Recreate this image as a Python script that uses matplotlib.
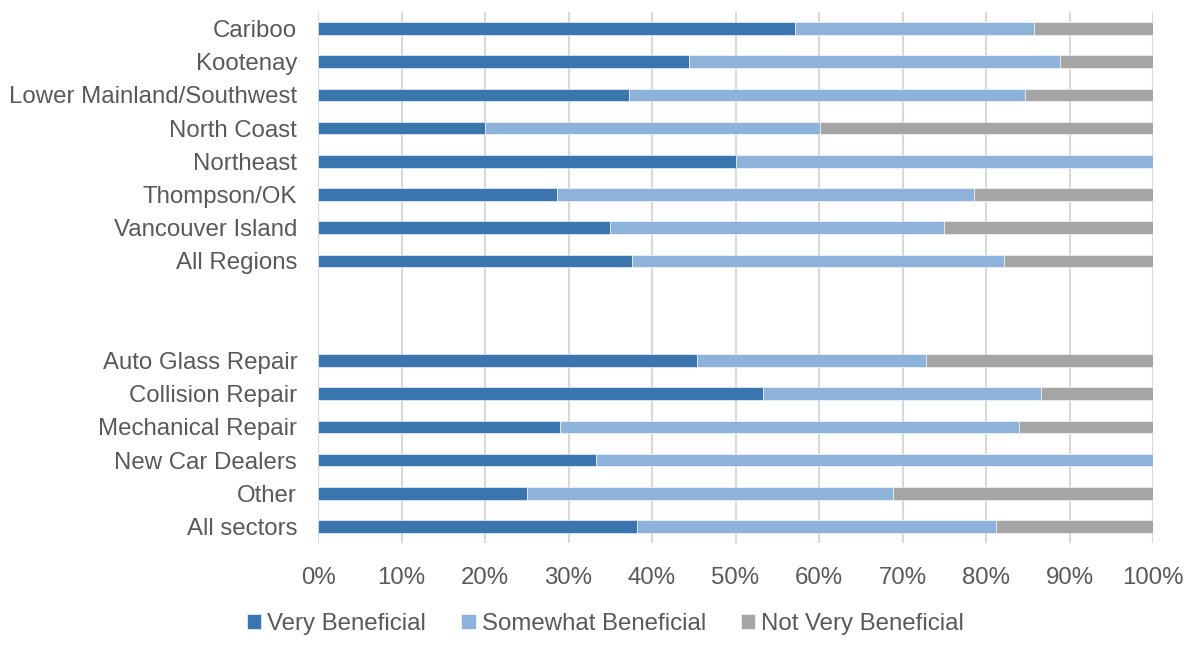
import numpy as np
import matplotlib.pyplot as plt

plt.rcParams['font.family'] = ['Liberation Sans', 'DejaVu Sans']

# Regions and sectors, with two empty slots between the groups
regions = ['Cariboo', 'Kootenay', 'Lower Mainland/Southwest', 'North Coast',
           'Northeast', 'Thompson/OK', 'Vancouver Island', 'All Regions']
sectors = ['Auto Glass Repair', 'Collision Repair', 'Mechanical Repair',
           'New Car Dealers', 'Other', 'All sectors']

# shares in percent
very_reg = [57.1, 44.4, 37.2, 20.0, 50.0, 28.6, 35.0, 37.6]
some_reg = [28.6, 44.5, 47.5, 40.1, 50.0, 50.0, 40.0, 44.5]
not_reg = [14.3, 11.1, 15.3, 39.9, 0.0, 21.4, 25.0, 17.9]

very_sec = [45.4, 53.3, 29.0, 33.3, 25.0, 38.2]
some_sec = [27.4, 33.3, 54.9, 66.7, 43.8, 43.0]
not_sec = [27.2, 13.4, 16.1, 0.0, 31.2, 18.8]

series = ['Very Beneficial', 'Somewhat Beneficial', 'Not Very Beneficial']
colors = ['#3A75AF', '#8DB3DA', '#A5A5A5']

labels = regions + ['', ''] + sectors
very = np.array(very_reg + [0, 0] + very_sec)
some = np.array(some_reg + [0, 0] + some_sec)
notv = np.array(not_reg + [0, 0] + not_sec)
mask = np.array([True] * len(regions) + [False, False] + [True] * len(sectors))
y = np.arange(len(labels))

fig = plt.figure(figsize=(11.85, 6.45), dpi=100)
ax = fig.add_axes([0.2684, 0.1581, 0.7046, 0.8233])

left = np.zeros(len(labels))
for vals, name, c in zip([very, some, notv], series, colors):
    ax.barh(y[mask], vals[mask], left=left[mask], height=0.38, color=c,
            edgecolor='white', linewidth=0.4, label=name, zorder=3)
    left = left + vals

ax.set_ylim(len(labels) - 0.5, -0.5)
ax.set_xlim(0, 100)
ax.set_xticks(np.arange(0, 101, 10))
ax.set_xticklabels([f'{v}%' for v in range(0, 101, 10)])
ax.set_yticks(y[mask])
ax.set_yticklabels([l for l, m in zip(labels, mask) if m])
ax.tick_params(axis='both', length=0, labelsize=17.3, labelcolor='#595959')
ax.tick_params(axis='y', pad=15)
ax.tick_params(axis='x', pad=17)
ax.grid(axis='x', color='#D9D9D9', linewidth=1.5, zorder=0)
for s in ax.spines.values():
    s.set_visible(False)

leg = fig.legend(loc='center', bbox_to_anchor=(0.511, 0.033), ncol=3,
                 frameon=False, fontsize=17.3, handlelength=0.6,
                 handleheight=0.6, handletextpad=0.25, columnspacing=1.45)
for t in leg.get_texts():
    t.set_color('#595959')

fig.savefig('out.png', dpi=100)
